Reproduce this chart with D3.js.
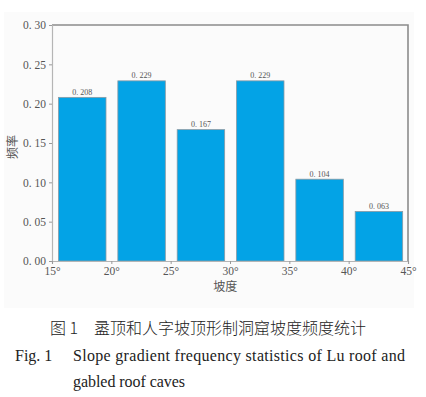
<!DOCTYPE html>
<html>
<head>
<meta charset="utf-8">
<script src="https://cdn.jsdelivr.net/npm/d3@7"></script>
<style>
  body { margin: 0; background: #fff; }
  svg { display: block; }
</style>
</head>
<body>
<div id="chart"></div>
<script>
// slope bins (degrees) and frequency
var binStarts = [15, 20, 25, 30, 35, 40];
var freqs = [0.208, 0.229, 0.167, 0.229, 0.104, 0.063];
var freqLabels = ["0. 208", "0. 229", "0. 167", "0. 229", "0. 104", "0. 063"];
var xTicks = [15, 20, 25, 30, 35, 40, 45];
var yTicks = [0, 0.05, 0.10, 0.15, 0.20, 0.25, 0.30];

var width = 426, height = 397;
var margin = {left: 52, right: 18, top: 25, bottom: 136};

var svg = d3.select("#chart").append("svg")
  .attr("width", width)
  .attr("height", height);

// faint figure background
svg.append("rect")
  .attr("x", 4).attr("y", 12)
  .attr("width", 410).attr("height", 296)
  .attr("fill", "#fbfbfb");

var xScale = d3.scaleLinear()
  .domain([15, 45])
  .range([margin.left, width - margin.right]);

var yScale = d3.scaleLinear()
  .domain([0, 0.30])
  .range([height - margin.bottom, margin.top]);

// bars
svg.append("g")
  .selectAll("rect")
  .data(binStarts)
  .enter().append("rect")
    .attr("x", function(d) { return xScale(d + 0.55); })
    .attr("width", function(d) { return xScale(d + 4.55) - xScale(d + 0.55); })
    .attr("y", function(d, i) { return yScale(freqs[i]); })
    .attr("height", function(d, i) { return yScale(0) - yScale(freqs[i]); })
    .attr("fill", "#03a3e6")
    .attr("stroke", "#8a9aa4")
    .attr("stroke-width", 0.8);

// value labels
svg.append("g")
  .selectAll("text")
  .data(binStarts)
  .enter().append("text")
    .attr("x", function(d) { return xScale(d + 2.55); })
    .attr("y", function(d, i) { return yScale(freqs[i]) - 2.5; })
    .attr("text-anchor", "middle")
    .style("font-family", "'Liberation Serif', serif")
    .style("font-size", "8px")
    .style("fill", "#555")
    .text(function(d, i) { return freqLabels[i]; });

// frame: top and right
svg.append("path")
  .attr("d", "M" + xScale(15) + "," + yScale(0.30) + "H" + xScale(45) + "V" + yScale(0))
  .attr("fill", "none")
  .attr("stroke", "#8c8c8c")
  .attr("stroke-width", 1.6);

// axes
var yAxis = d3.axisLeft(yScale)
  .tickValues(yTicks)
  .tickSize(3)
  .tickFormat(function(d) { return d3.format(".2f")(d).replace(".", ". "); });

var xAxis = d3.axisBottom(xScale)
  .tickValues(xTicks)
  .tickSize(3)
  .tickFormat(function(d) { return d + "°"; });

var gy = svg.append("g")
  .attr("transform", "translate(" + margin.left + ",0)")
  .call(yAxis);

var gx = svg.append("g")
  .attr("transform", "translate(0," + (height - margin.bottom) + ")")
  .call(xAxis);

[gx, gy].forEach(function(g) {
  g.select(".domain").attr("stroke", "#b5b5b5").attr("stroke-width", 1.2);
  g.selectAll(".tick line").attr("stroke", "#999");
  g.selectAll(".tick text")
    .style("font-family", "'Liberation Serif', serif")
    .style("font-size", "11.5px")
    .style("fill", "#555");
});
gy.selectAll(".tick text").attr("x", -6);
gx.selectAll(".tick text").attr("y", 6);

// axis titles
svg.append("text")
  .attr("transform", "translate(17," + yScale(0.145) + ") rotate(-90)")
  .attr("text-anchor", "middle")
  .style("font-family", "'Noto Sans CJK SC', sans-serif")
  .style("font-size", "12px")
  .style("fill", "#555")
  .text("频率");

svg.append("text")
  .attr("x", xScale(29.6))
  .attr("y", 291)
  .attr("text-anchor", "middle")
  .style("font-family", "'Noto Sans CJK SC', sans-serif")
  .style("font-size", "12px")
  .style("fill", "#555")
  .text("坡度");

// caption
svg.append("text")
  .attr("x", 208)
  .attr("y", 334)
  .attr("text-anchor", "middle")
  .style("font-family", "'Noto Sans CJK SC', sans-serif")
  .style("font-size", "16px")
  .style("font-weight", "300")
  .style("fill", "#222")
  .text("图 1　盝顶和人字坡顶形制洞窟坡度频度统计");

var capStyle = function(sel) {
  sel.style("font-family", "'Liberation Serif', serif")
    .style("font-size", "16px")
    .style("fill", "#222");
};

svg.append("text").attr("x", 15).attr("y", 361).call(capStyle).text("Fig. 1");
svg.append("text").attr("x", 73).attr("y", 361)
  .attr("textLength", 332)
  .call(capStyle)
  .text("Slope gradient frequency statistics of Lu roof and");
svg.append("text").attr("x", 73).attr("y", 387)
  .attr("textLength", 112)
  .call(capStyle)
  .text("gabled roof caves");
</script>
</body>
</html>
